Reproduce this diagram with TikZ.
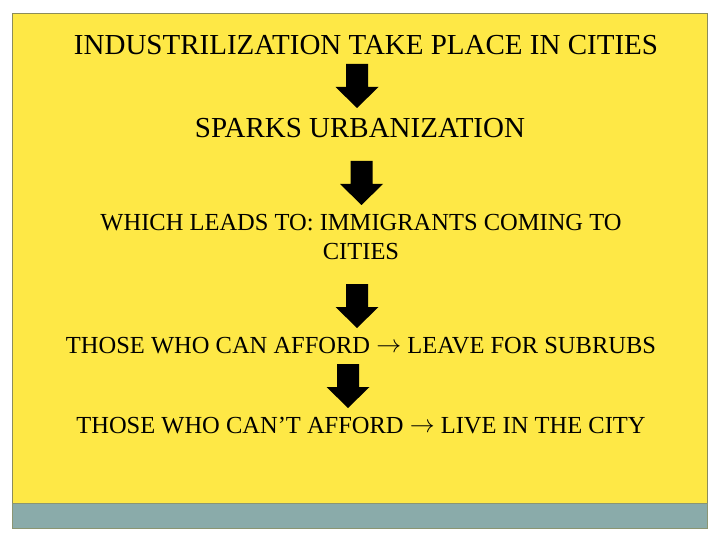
\documentclass[tikz,border=0pt]{standalone}
\usepackage{fontspec}
\setmainfont{Liberation Serif}
\definecolor{slideyellow}{RGB}{254,232,70}
\definecolor{bandgray}{RGB}{138,171,170}
\definecolor{edgeolive}{RGB}{140,140,90}
% block arrow pointing down: centre x, top y
\newcommand{\downblock}[2]{%
  \fill (#1-11,#2) -- (#1+11,#2) -- (#1+11,#2+23) -- (#1+21.5,#2+23)
    -- (#1,#2+44) -- (#1-21.5,#2+23) -- (#1-11,#2+23) -- cycle;}
\newcommand{\thento}{\raisebox{1.5pt}{$\rightarrow$}}
\begin{document}
\begin{tikzpicture}
        [x=1pt,y=-1pt,
         stage/.style={font=\fontsize{24.5}{29}\selectfont,inner sep=0pt,align=center},
         bigstage/.style={stage,font=\fontsize{29}{34}\selectfont}]
        \useasboundingbox (0,0) rectangle (720,540);
        \fill[white] (0,0) rectangle (720,540);
        \filldraw[fill=slideyellow,draw=edgeolive] (12,13) rectangle (707,503);
        \filldraw[fill=bandgray,draw=edgeolive!70!bandgray] (12,503) rectangle (707,528);
        \node[bigstage] (ind) at (366,45) {INDUSTRILIZATION TAKE PLACE IN CITIES};
        \node[bigstage] (urb) at (360,128) {SPARKS URBANIZATION};
        \node[stage] (imm) at (361,237) {WHICH LEADS TO: IMMIGRANTS COMING TO\\CITIES};
        \node[stage] (sub) at (361,346) {THOSE WHO CAN AFFORD \thento{} LEAVE FOR SUBRUBS};
        \node[stage] (city) at (361,426) {THOSE WHO CAN’T AFFORD \thento{} LIVE IN THE CITY};
        \downblock{357}{64}
        \downblock{361.5}{161}
        \downblock{357}{284}
        \downblock{348}{364}
    \end{tikzpicture}
\end{document}
